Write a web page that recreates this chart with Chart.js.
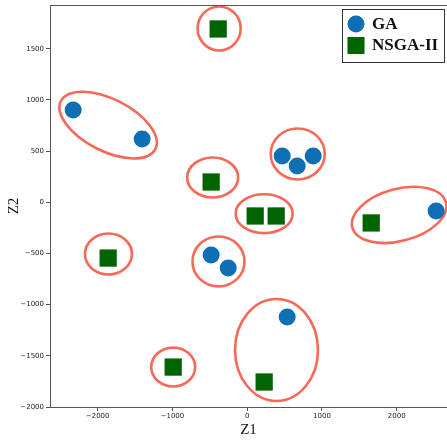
<!DOCTYPE html>
<html>
<head>
<meta charset="utf-8">
<script src="https://cdn.jsdelivr.net/npm/chart.js@4"></script>
<style>
body { margin: 0; background: white; overflow: hidden; }
</style>
</head>
<body>
<canvas id="myChart" width="447" height="440"></canvas>
<script>
var gaX = [-2328, -1405, 468, 669, 883, 2528, -482, -254, 535]
var gaY = [902, 618, 452, 355, 452, -85, -515, -642, -1121]

var nsgaX = [-388, -482, 107, 388, 1659, -1860, -990, 227]
var nsgaY = [1693, 198, -134, -134, -202, -545, -1610, -1756]

// cluster ellipses: centre and radii in data units, tilt in degrees
var ellipseX = [-375, -462, 676, 227, -384, -1856, 392, -990, -1860, 2033]
var ellipseY = [1698, 242, 472, -111, -578, -505, -1443, -1610, 754, -124]
var ellipseRx = [288, 341, 361, 381, 348, 314, 555, 294, 709, 649]
var ellipseRy = [215, 195, 249, 190, 244, 200, 498, 190, 254, 254]
var ellipseAngle = [0, 0, 0, 0, 0, 0, 0, 0, 27, -15]

var xTicks = [-2000, -1000, 0, 1000, 2000]
var yTicks = [-2000, -1500, -1000, -500, 0, 500, 1000, 1500]

var blue = "#0e6fb5"
var green = "#006400"

function toPoints(xs, ys) {
    var pts = []
    for (var i = 0; i < xs.length; i++) {
        pts.push({x: xs[i], y: ys[i]})
    }
    return pts
}

var ellipsePlugin = {
    id: "ellipses",
    beforeDatasetsDraw: function(chart) {
        var ctx = chart.ctx
        var xs = chart.scales.x
        var ys = chart.scales.y
        var a = chart.chartArea
        ctx.save()
        ctx.beginPath()
        ctx.rect(a.left, a.top, a.right - a.left, a.bottom - a.top)
        ctx.clip()
        ctx.strokeStyle = "rgba(247, 88, 68, 0.9)"
        ctx.lineWidth = 2.6
        for (var i = 0; i < ellipseX.length; i++) {
            var cx = xs.getPixelForValue(ellipseX[i])
            var cy = ys.getPixelForValue(ellipseY[i])
            var rx = Math.abs(xs.getPixelForValue(ellipseX[i] + ellipseRx[i]) - cx)
            var ry = Math.abs(ys.getPixelForValue(ellipseY[i] + ellipseRy[i]) - cy)
            ctx.beginPath()
            ctx.ellipse(cx, cy, rx, ry, ellipseAngle[i] * Math.PI / 180, 0, 2 * Math.PI)
            ctx.stroke()
        }
        ctx.restore()
    }
}

var framePlugin = {
    id: "frame",
    afterDraw: function(chart) {
        var ctx = chart.ctx
        var a = chart.chartArea
        ctx.save()
        ctx.strokeStyle = "#555"
        ctx.lineWidth = 1
        ctx.beginPath()
        ctx.moveTo(a.left, a.top + 0.5)
        ctx.lineTo(a.right, a.top + 0.5)
        ctx.stroke()

        // legend box
        ctx.fillStyle = "white"
        ctx.strokeStyle = "#333"
        ctx.fillRect(342, 9, 102, 53)
        ctx.strokeRect(342.5, 9.5, 102, 53)

        var ds = chart.data.datasets
        ctx.fillStyle = ds[0].backgroundColor
        ctx.beginPath()
        ctx.arc(356, 24, 8.5, 0, 2 * Math.PI)
        ctx.fill()
        ctx.fillStyle = ds[1].backgroundColor
        ctx.fillRect(347.5, 37, 17, 17)

        ctx.fillStyle = "#111"
        ctx.font = "bold 17px 'Liberation Serif'"
        ctx.textBaseline = "middle"
        ctx.textAlign = "left"
        ctx.fillText(ds[0].label, 372, 25)
        ctx.fillText(ds[1].label, 372, 46)
        ctx.restore()
    }
}

function fmt(v) {
    return String(v).replace("-", "\u2212")
}

chart = new Chart("myChart", {
    type: "scatter",
    data: {
        datasets: [{
            label: "GA",
            data: toPoints(gaX, gaY),
            backgroundColor: blue,
            borderColor: blue,
            borderWidth: 0,
            pointStyle: "circle",
            pointRadius: 8.5,
            pointHoverRadius: 8.5
        }, {
            label: "NSGA-II",
            data: toPoints(nsgaX, nsgaY),
            backgroundColor: green,
            borderColor: green,
            borderWidth: 0,
            pointStyle: "rect",
            pointRadius: 12.2,
            pointHoverRadius: 12.2
        }]
    },
    options: {
        responsive: false,
        animation: false,
        layout: {autoPadding: false, padding: {top: 5, right: 0, left: 0, bottom: 0}},
        plugins: {
            legend: {display: false},
            tooltip: {enabled: false}
        },
        scales: {
            x: {
                type: "linear",
                min: -2638,
                max: 2673,
                afterBuildTicks: function(axis) {
                    axis.ticks = xTicks.map(function(v) { return {value: v} })
                },
                afterFit: function(axis) {
                    axis.height = 33
                    axis.paddingLeft = 0
                    axis.paddingRight = 0
                },
                grid: {drawOnChartArea: false, drawTicks: true, tickLength: 4, color: "#555"},
                border: {display: true, color: "#555", width: 1},
                ticks: {
                    color: "#222",
                    padding: 1,
                    maxRotation: 0,
                    font: {family: "DejaVu Sans", size: 7},
                    callback: function(v) { return fmt(v) }
                },
                title: {
                    display: true,
                    text: "Z1",
                    color: "#111",
                    padding: {top: 0, bottom: 2},
                    font: {family: "Liberation Serif", size: 15, lineHeight: 1}
                }
            },
            y: {
                type: "linear",
                min: -2000,
                max: 1927,
                afterBuildTicks: function(axis) {
                    axis.ticks = yTicks.map(function(v) { return {value: v} })
                },
                afterFit: function(axis) {
                    axis.width = 50
                    axis.paddingTop = 0
                    axis.paddingBottom = 0
                },
                grid: {drawOnChartArea: false, drawTicks: true, tickLength: 4, color: "#555"},
                border: {display: true, color: "#555", width: 1},
                ticks: {
                    color: "#222",
                    padding: 2,
                    font: {family: "DejaVu Sans", size: 7},
                    callback: function(v) { return fmt(v) }
                },
                title: {
                    display: true,
                    text: "Z2",
                    color: "#111",
                    padding: {top: 7, bottom: 0},
                    font: {family: "Liberation Serif", size: 15, lineHeight: 1}
                }
            }
        }
    },
    plugins: [ellipsePlugin, framePlugin]
});
</script>
</body>
</html>
